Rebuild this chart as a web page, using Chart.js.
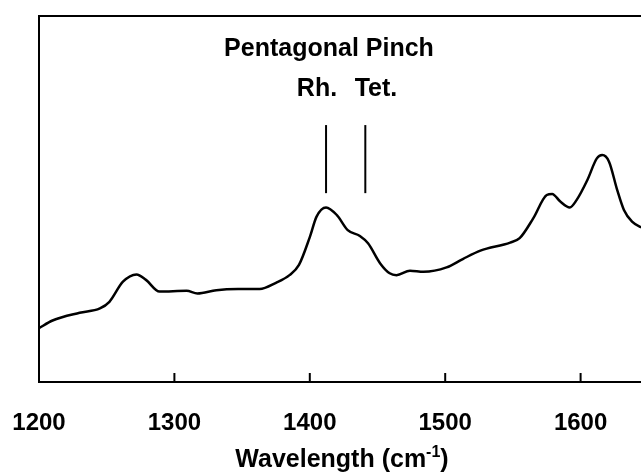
<!DOCTYPE html>
<html>
<head>
<meta charset="utf-8">
<script src="https://cdn.jsdelivr.net/npm/chart.js@4/dist/chart.umd.min.js"></script>
<style>
  html, body { margin: 0; padding: 0; background: #fff; overflow: hidden; }
  #wrap { width: 800px; height: 474px; }
</style>
</head>
<body>
<div id="wrap"><canvas id="spectrum"></canvas></div>
<script>
// Raman spectrum (intensity in arbitrary units, 0 = axis, 100 = top frame)
const wavenumbers = [1200, 1210, 1230, 1245, 1252, 1262, 1272, 1279, 1289, 1309, 1317, 1331,
  1347, 1363, 1375, 1385, 1392, 1400, 1405, 1412, 1420, 1428, 1437, 1443, 1452, 1459, 1464,
  1474, 1484, 1501, 1513, 1526, 1548, 1555, 1565, 1575, 1579, 1585, 1592, 1597, 1605, 1612,
  1616, 1621, 1627, 1632, 1638, 1644, 1650];
const intensity = [14.7, 16.8, 18.9, 20.1, 21.9, 27.4, 29.4, 27.9, 24.7, 24.9, 24.2, 25.1,
  25.4, 25.4, 27.1, 29.2, 32.0, 39.6, 45.2, 47.7, 45.6, 41.5, 39.9, 37.9, 32.4, 29.7, 29.2,
  30.4, 30.1, 31.3, 33.6, 35.9, 38.1, 39.3, 44.7, 51.1, 51.4, 49.3, 47.7, 49.7, 55.2, 61.1,
  62.0, 60.2, 52.5, 47.0, 43.8, 42.4, 41.8];

// Pentagonal pinch markers
const markerLabels = ['Rh.', 'Tet.'];
const markerPositions = [1412, 1441];
const markerRange = [51.6, 70.2];

const xTicks = [1200, 1300, 1400, 1500, 1600];

const FONT = '"Liberation Sans", Arial, sans-serif';

// Frame, inward ticks, tick labels and annotations
const decorations = {
  id: 'decorations',
  afterDraw(chart) {
    const { ctx, chartArea: a, scales: { x } } = chart;
    ctx.save();
    ctx.strokeStyle = '#000';
    ctx.lineWidth = 2;
    ctx.beginPath();
    ctx.moveTo(a.right, a.top);
    ctx.lineTo(a.left, a.top);
    ctx.lineTo(a.left, a.bottom);
    ctx.lineTo(a.right, a.bottom);
    ctx.stroke();

    ctx.fillStyle = '#000';
    ctx.textAlign = 'center';
    ctx.textBaseline = 'alphabetic';
    ctx.font = 'bold 24px ' + FONT;
    xTicks.forEach(v => {
      const px = x.getPixelForValue(v);
      ctx.beginPath();
      ctx.moveTo(px, a.bottom);
      ctx.lineTo(px, a.bottom - 9);
      ctx.stroke();
      ctx.fillText(String(v), px, 430);
    });

    ctx.font = 'bold 25px ' + FONT;
    ctx.fillText('Pentagonal Pinch', 329, 56);
    ctx.fillText(markerLabels[0], 317, 96);
    ctx.fillText(markerLabels[1], 376, 96);

    // axis title with superscript
    const base = 'Wavelength (cm';
    const sup = '-1';
    ctx.textAlign = 'left';
    const w1 = ctx.measureText(base).width;
    const w3 = ctx.measureText(')').width;
    ctx.font = 'bold 16px ' + FONT;
    const w2 = ctx.measureText(sup).width;
    let sx = 342 - (w1 + w2 + w3) / 2;
    ctx.font = 'bold 25px ' + FONT;
    ctx.fillText(base, sx, 467);
    sx += w1;
    ctx.font = 'bold 16px ' + FONT;
    ctx.fillText(sup, sx, 457);
    sx += w2;
    ctx.font = 'bold 25px ' + FONT;
    ctx.fillText(')', sx, 467);
    ctx.restore();
  }
};

const markerSets = markerPositions.map((p, i) => ({
  label: markerLabels[i],
  data: markerRange.map(y => ({ x: p, y: y })),
  borderColor: '#000',
  borderWidth: 2,
  pointRadius: 0,
  tension: 0
}));

new Chart(document.getElementById('spectrum'), {
  type: 'line',
  data: {
    datasets: [{
      label: 'Spectrum',
      data: wavenumbers.map((w, i) => ({ x: w, y: intensity[i] })),
      borderColor: '#000',
      borderWidth: 2.5,
      pointRadius: 0,
      cubicInterpolationMode: 'monotone'
    }, ...markerSets]
  },
  options: {
    responsive: true,
    maintainAspectRatio: false,
    animation: false,
    devicePixelRatio: 1,
    layout: { padding: { top: 16, right: 84, bottom: 92, left: 39 } },
    plugins: {
      legend: { display: false },
      tooltip: { enabled: false }
    },
    scales: {
      x: { type: 'linear', display: false, min: 1200, max: 1700 },
      y: { display: false, min: 0, max: 100 }
    }
  },
  plugins: [decorations]
});
</script>
</body>
</html>
